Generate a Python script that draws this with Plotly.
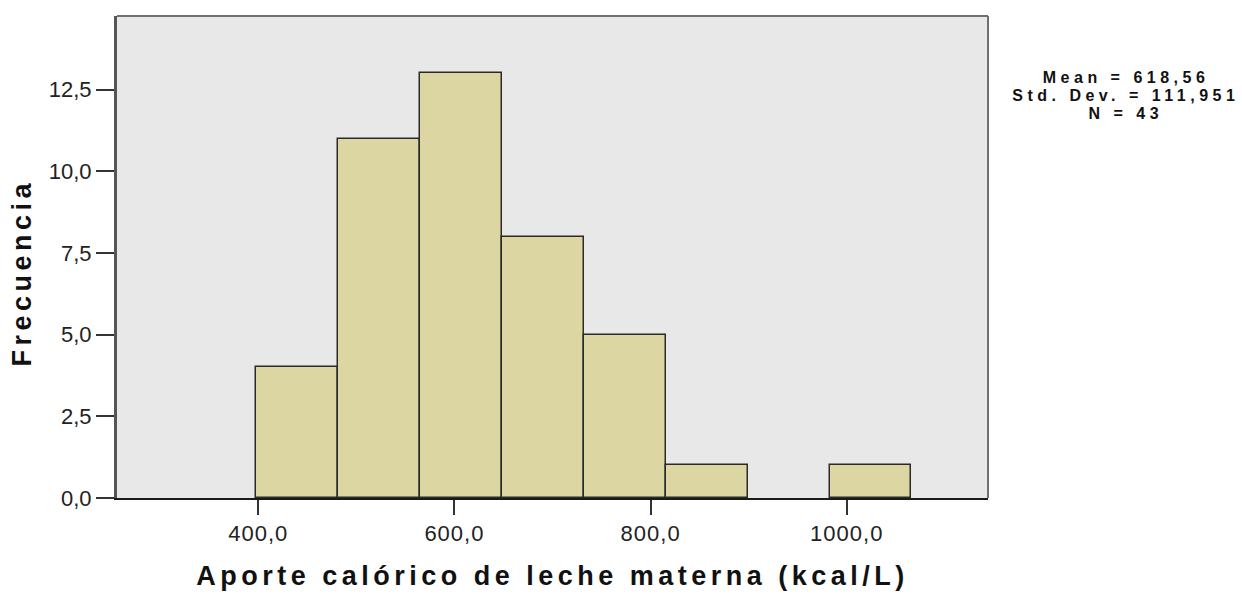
import plotly.graph_objects as go

# Data
bin_edges = [398.0, 481.5, 565.0, 648.5, 732.0, 815.5, 899.0, 982.5, 1066.0]
frequencies = [4, 11, 13, 8, 5, 1, 0, 1]
x_tick_vals = [400, 600, 800, 1000]
x_tick_text = ["400,0", "600,0", "800,0", "1000,0"]
y_tick_vals = [0, 2.5, 5, 7.5, 10, 12.5]
y_tick_text = ["0,0", "2,5", "5,0", "7,5", "10,0", "12,5"]
stats_lines = ["Mean = 618,56", "Std. Dev. = 111,951", "N = 43"]
x_title = "Aporte calórico de leche materna (kcal/L)"
y_title = "Frecuencia"

centers = [(a + b) / 2 for a, b in zip(bin_edges[:-1], bin_edges[1:])]
widths = [b - a for a, b in zip(bin_edges[:-1], bin_edges[1:])]
line_widths = [1.5 if f > 0 else 0 for f in frequencies]

fig = go.Figure()
fig.add_trace(go.Bar(
    x=centers, y=frequencies, width=widths,
    marker=dict(color="#DCD7A2", line=dict(color="#2a2a2a", width=line_widths)),
    hoverinfo="x+y",
))

font_family = "Liberation Sans, Arial, sans-serif"

fig.update_layout(
    width=1242, height=594,
    margin=dict(l=117, r=254, t=16, b=96),
    paper_bgcolor="white",
    plot_bgcolor="#E8E8E8",
    showlegend=False,
    bargap=0,
    font=dict(family=font_family, color="#222222"),
    xaxis=dict(
        range=[256, 1144], automargin=False,
        tickvals=x_tick_vals, ticktext=x_tick_text,
        ticks="outside", ticklen=15, tickwidth=2, tickcolor="#333333",
        showline=True, linecolor="#1a1a1a", linewidth=2,
        showgrid=False, zeroline=False,
        tickfont=dict(size=22, color="#222222"),
        title=dict(text="<b>" + x_title + "</b>",
                   font=dict(size=27, color="#111111"), standoff=21),
    ),
    yaxis=dict(
        range=[0, 14.75], automargin=False,
        tickvals=y_tick_vals, ticktext=y_tick_text,
        ticks="outside", ticklen=18, tickwidth=2, tickcolor="#333333",
        showline=True, linecolor="#555555", linewidth=3,
        showgrid=False, zeroline=False,
        tickfont=dict(size=22, color="#222222"),
    ),
)

# top and right frame lines
fig.add_shape(type="line", xref="paper", yref="paper", x0=0, x1=1, y0=1, y1=1,
              line=dict(color="#707070", width=2))
fig.add_shape(type="line", xref="paper", yref="paper", x0=1, x1=1, y0=0, y1=1,
              line=dict(color="#707070", width=2))

# y-axis title
fig.add_annotation(
    xref="paper", yref="paper", x=-0.1085, y=0.47, xanchor="center", yanchor="middle",
    text="<b>" + y_title + "</b>", textangle=-90, showarrow=False,
    font=dict(size=27, color="#111111", family=font_family),
)

# statistics box
for line, ypos in zip(stats_lines, [0.8734, 0.8351, 0.7967]):
    fig.add_annotation(
        xref="paper", yref="paper", x=1.1584, y=ypos, xanchor="center", yanchor="middle",
        text="<b>" + line + "</b>", showarrow=False, align="center",
        font=dict(size=16, color="#111111", family=font_family),
    )

post = """
document.body.style.margin = '0';
var gd = document.getElementById('{plot_id}');
gd.querySelectorAll('.xtitle').forEach(function(e){ e.style.letterSpacing = '4.5px'; });
gd.querySelectorAll('.annotation-text').forEach(function(e){
    if (e.textContent.indexOf('Frecuencia') === 0) { e.style.letterSpacing = '4.5px'; }
    else { e.style.letterSpacing = '4.5px'; }
});
gd.querySelectorAll('.xtick text').forEach(function(e){ e.style.letterSpacing = '1px'; });
"""

fig.write_html("out.html", post_script=post, config={"displayModeBar": False})
